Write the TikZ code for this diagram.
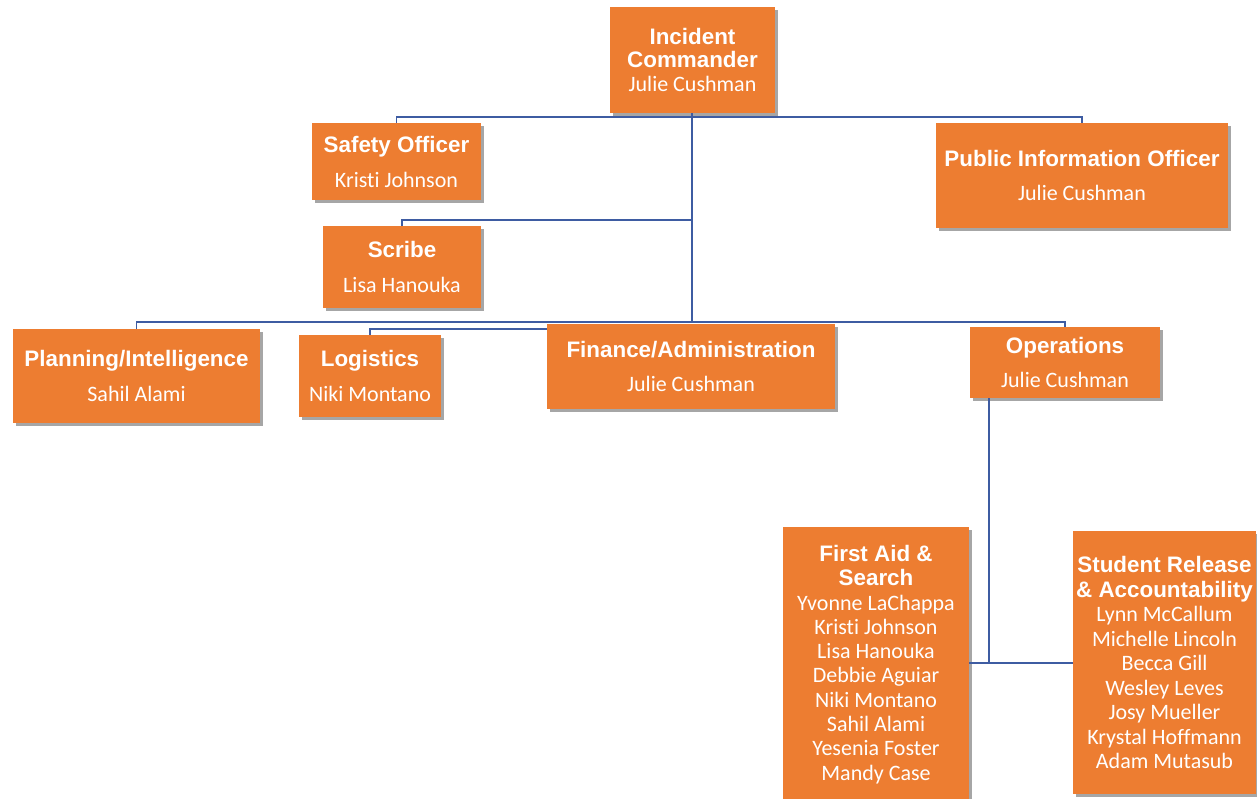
\documentclass[tikz,border=0pt]{standalone}
\usepackage{fontspec}
\newfontfamily\titlefamily{Liberation Sans}
\newfontfamily\namefamily{Carlito}[Ligatures=NoCommon]
\usetikzlibrary{shadows}
\definecolor{boxorange}{RGB}{237,125,49}
\definecolor{linkblue}{RGB}{62,92,162}
\newcommand\boxtitle[1]{{\titlefamily\bfseries\fontsize{22.4}{24}\selectfont #1}}
\newcommand\boxname[1]{{\namefamily\fontsize{22}{24}\selectfont #1}}
\begin{document}
\begin{tikzpicture}[x=1pt,y=-1pt,
  box/.style={rectangle, fill=boxorange, text=white, align=center, inner sep=0pt,
    drop shadow={shadow xshift=3pt, shadow yshift=-3pt, opacity=0.35, fill=black},
    font=\fontsize{22}{24}\selectfont},
  conn/.style={draw=linkblue, line width=1.8pt}]
\useasboundingbox (0,0) rectangle (1257,799);

\node[box, minimum width=165pt, minimum height=106pt] (ic) at (692.5,60)
  {\boxtitle{Incident}\\[-1pt]\boxtitle{Commander}\\\boxname{Julie Cushman}};
\node[box, minimum width=169pt, minimum height=77pt] (safety) at (396.5,161.5)
  {\boxtitle{Safety Officer}\\[11pt]\boxname{Kristi Johnson}};
\node[box, minimum width=292pt, minimum height=105pt] (pio) at (1082,175.5)
  {\boxtitle{Public Information Officer}\\[10pt]\boxname{Julie Cushman}};
\node[box, minimum width=158pt, minimum height=82pt] (scribe) at (402,267)
  {\boxtitle{Scribe}\\[11pt]\boxname{Lisa Hanouka}};
\node[box, minimum width=247pt, minimum height=94pt] (plan) at (136.5,376)
  {\boxtitle{Planning/Intelligence}\\[11pt]\boxname{Sahil Alami}};
\node[box, minimum width=142pt, minimum height=82pt] (log) at (370,376)
  {\boxtitle{Logistics}\\[11pt]\boxname{Niki Montano}};
\node[box, minimum width=288pt, minimum height=85pt] (fin) at (691,366.5)
  {\boxtitle{Finance/Administration}\\[10pt]\boxname{Julie Cushman}};
\node[box, minimum width=190pt, minimum height=71pt] (ops) at (1065,362.5)
  {\boxtitle{Operations}\\[10pt]\boxname{Julie Cushman}};
\node[box, minimum width=186pt, minimum height=275pt, font=\fontsize{22}{24.3}\selectfont] (fa) at (876,664.5)
  {\boxtitle{First Aid \&}\\\boxtitle{Search}\\\boxname{Yvonne LaChappa}\\\boxname{Kristi Johnson}\\
   \boxname{Lisa Hanouka}\\\boxname{Debbie Aguiar}\\\boxname{Niki Montano}\\\boxname{Sahil Alami}\\
   \boxname{Yesenia Foster}\\\boxname{Mandy Case}};
\node[box, minimum width=183pt, minimum height=263pt, font=\fontsize{22}{24.5}\selectfont] (sr) at (1164.5,662.5)
  {\boxtitle{Student Release}\\\boxtitle{\& Accountability}\\\boxname{Lynn McCallum}\\\boxname{Michelle Lincoln}\\
   \boxname{Becca Gill}\\\boxname{Wesley Leves}\\\boxname{Josy Mueller}\\\boxname{Krystal Hoffmann}\\
   \boxname{Adam Mutasub}};

\coordinate (j1) at (692,117);
\coordinate (j2) at (692,220);
\coordinate (j3) at (692,322);
\coordinate (j4) at (692,329);
\coordinate (j5) at (989,663);

\draw[conn] (ic.south -| j1) -- (j3);
\draw[conn] (safety.north) |- (j1) -| (pio.north);
\draw[conn] (scribe.north) |- (j2);
\draw[conn] (plan.north) |- (j3) -| (ops.north);
\draw[conn] (log.north) |- (fin.west |- j4);
\draw[conn] (ops.south -| j5) -- (j5);
\draw[conn] (fa.east |- j5) -- (sr.west |- j5);
\end{tikzpicture}
\end{document}
